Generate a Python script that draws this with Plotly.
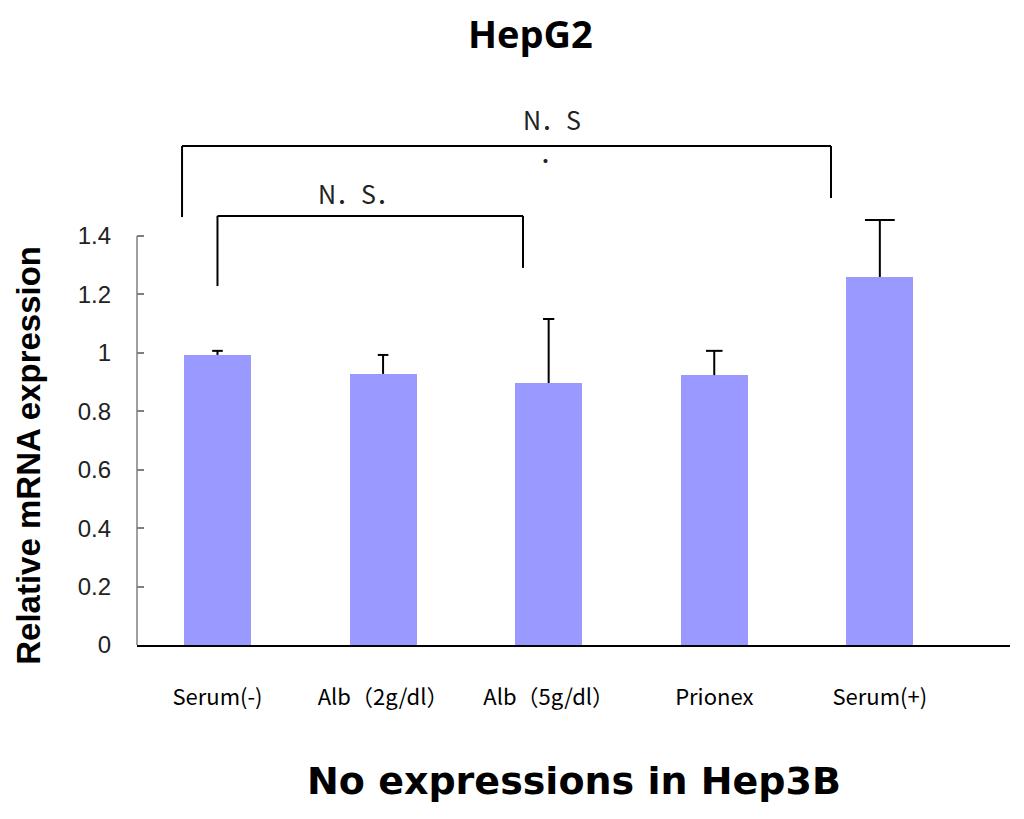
import plotly.graph_objects as go

# --- Data ---
categories = ["Serum(-)", "Alb（2g/dl）", "Alb（5g/dl）", "Prionex", "Serum(+)"]
expression = [0.993, 0.928, 0.897, 0.924, 1.26]
error_plus = [0.014, 0.065, 0.219, 0.083, 0.195]

y_ticks = [0, 0.2, 0.4, 0.6, 0.8, 1.0, 1.2, 1.4]
y_tick_text = ["0", "0.2", "0.4", "0.6", "0.8", "1", "1.2", "1.4"]

# significance brackets
bracket_groups = [("Serum(-)", "Alb（5g/dl）"), ("Serum(-)", "Serum(+)")]
bracket_heights = [1.469, 1.708]
bracket_leg_ends = [(1.229, 1.291), (1.465, 1.530)]
bracket_labels = ["N．S．", "N．S<br>．"]

# --- Styling ---
bar_color = "#9999FF"
cap_half = [0.032, 0.032, 0.034, 0.05, 0.09]   # cap half-width, category units
bracket_x_shift = [(0.0, -0.155), (-0.214, -0.295)]
label_pos = [(0.86, 1.547), (2.02, 1.745)]

x_idx = list(range(len(categories)))

fig = go.Figure()

fig.add_trace(
    go.Bar(
        x=x_idx,
        y=expression,
        width=0.405,
        marker=dict(color=bar_color, line=dict(width=0)),
        hoverinfo="skip",
        showlegend=False,
    )
)

# upper-only error bars (stem + top cap, no cap at the bar top)
err_x, err_y = [], []
for i in x_idx:
    top = expression[i] + error_plus[i]
    err_x += [i, i, None, i - cap_half[i], i + cap_half[i], None]
    err_y += [expression[i], top, None, top, top, None]

fig.add_trace(
    go.Scatter(
        x=err_x,
        y=err_y,
        mode="lines",
        line=dict(color="black", width=2),
        hoverinfo="skip",
        showlegend=False,
    )
)

shapes = []
# y axis line only up to 1.4
shapes.append(dict(type="line", xref="paper", yref="y", x0=0, x1=0, y0=0, y1=y_ticks[-1],
                   line=dict(color="#7f7f7f", width=1.5)))

for (a, b), top, (end_l, end_r), (sl, sr) in zip(bracket_groups, bracket_heights,
                                                 bracket_leg_ends, bracket_x_shift):
    xl = categories.index(a) + sl
    xr = categories.index(b) + sr
    line = dict(color="black", width=2)
    shapes.append(dict(type="line", xref="x", yref="y", x0=xl, x1=xl, y0=end_l, y1=top, line=line))
    shapes.append(dict(type="line", xref="x", yref="y", x0=xl, x1=xr, y0=top, y1=top, line=line))
    shapes.append(dict(type="line", xref="x", yref="y", x0=xr, x1=xr, y0=top, y1=end_r, line=line))

annotations = []
for text, (lx, ly) in zip(bracket_labels, label_pos):
    annotations.append(dict(
        x=lx, y=ly, xref="x", yref="y", text=text, showarrow=False,
        font=dict(family="Noto Sans CJK JP", size=25, color="#222"),
        xanchor="center", yanchor="middle",
    ))

annotations.append(dict(
    x=0.4513, y=1.103, xref="paper", yref="paper", text="<b>HepG2</b>", showarrow=False,
    font=dict(family="Open Sans", size=38, color="black"), xanchor="center", yanchor="middle",
))
annotations.append(dict(
    x=-0.1237, y=0.341, xref="paper", yref="paper", text="<b>Relative mRNA expression</b>",
    showarrow=False, textangle=-90,
    font=dict(family="Liberation Sans", size=33, color="black"), xanchor="center", yanchor="middle",
))
annotations.append(dict(
    x=0.5006, y=-0.245, xref="paper", yref="paper", text="<b>No expressions in Hep3B</b>",
    showarrow=False,
    font=dict(family="DejaVu Sans", size=38, color="black"), xanchor="center", yanchor="middle",
))

# page body adds an 8px offset, so the figure is 8px smaller than the window
fig.update_layout(
    width=1016,
    height=811,
    margin=dict(l=129, r=14, t=82, b=174),
    plot_bgcolor="white",
    paper_bgcolor="white",
    bargap=0,
    shapes=shapes,
    annotations=annotations,
    xaxis=dict(
        range=[-0.486, 4.786],
        tickvals=x_idx,
        ticktext=categories,
        showline=True,
        linecolor="black",
        linewidth=2,
        ticks="",
        showgrid=False,
        zeroline=False,
        ticklabelstandoff=32,
        tickfont=dict(family="Noto Sans CJK JP", size=22, color="black"),
    ),
    yaxis=dict(
        range=[0, 1.9],
        tickvals=y_ticks,
        ticktext=y_tick_text,
        showline=False,
        ticks="inside",
        ticklen=7,
        tickcolor="#7f7f7f",
        tickwidth=1.5,
        showgrid=False,
        zeroline=False,
        ticklabelstandoff=25,
        tickfont=dict(family="Liberation Sans", size=24, color="#222"),
    ),
)

fig.write_html("out.html")
